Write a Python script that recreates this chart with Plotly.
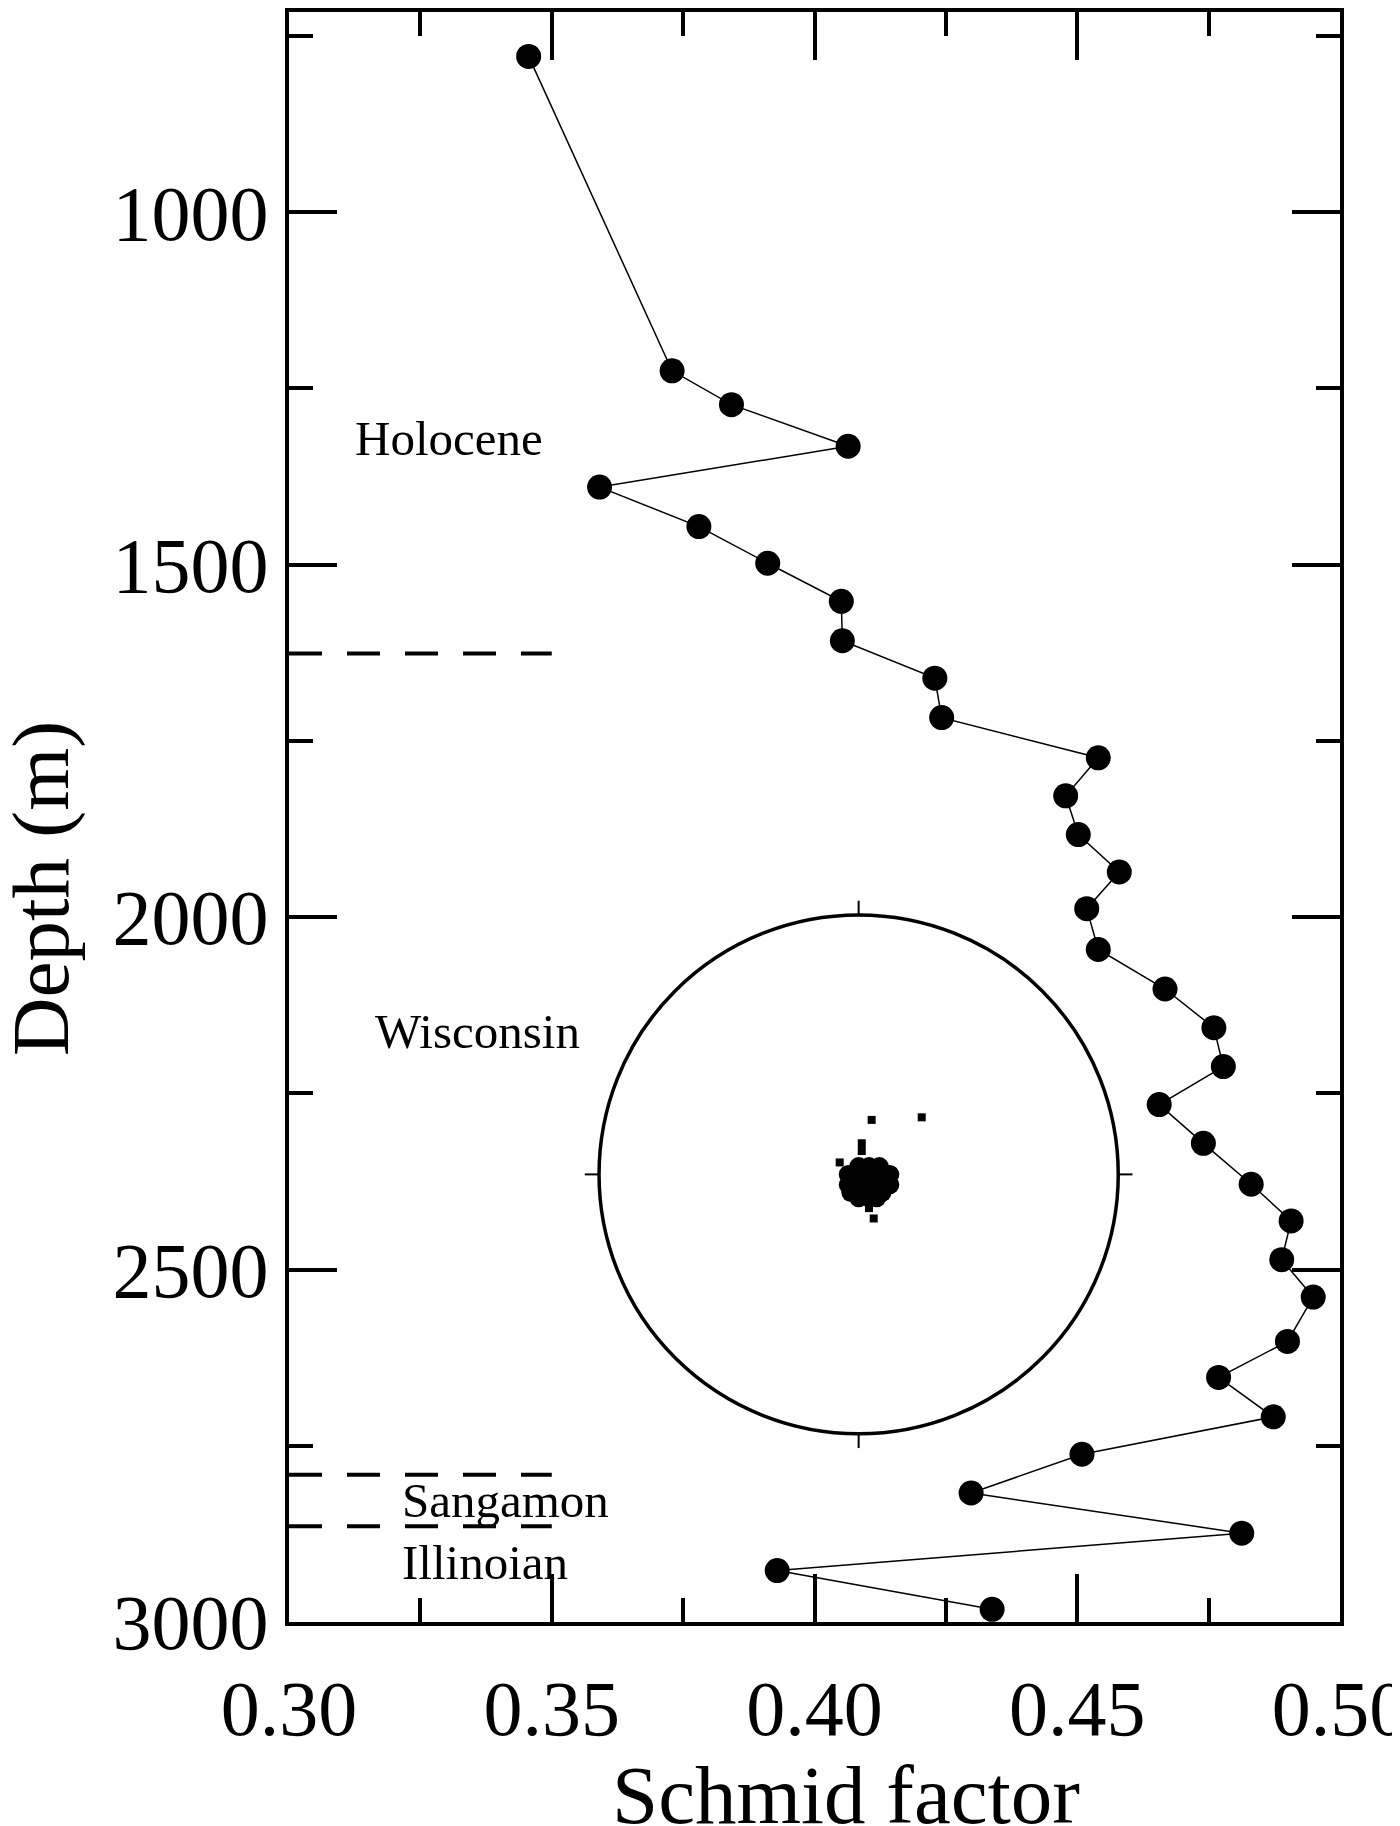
import plotly.graph_objects as go

# Schmid factor profile (depth in m)
schmid = [0.3456, 0.3729, 0.3842, 0.4064, 0.3591, 0.3780, 0.3911, 0.4051,
          0.4053, 0.4229, 0.4242, 0.4540, 0.4478, 0.4502, 0.4580, 0.4518,
          0.4540, 0.4667, 0.4760, 0.4778, 0.4656, 0.4740, 0.4831, 0.4907,
          0.4889, 0.4949, 0.4900, 0.4769, 0.4873, 0.4509, 0.4298, 0.4813,
          0.3929, 0.4338]
depth = [779, 1225, 1273, 1332, 1390, 1446, 1498, 1552,
         1608, 1661, 1717, 1774, 1828, 1883, 1936, 1988,
         2046, 2102, 2157, 2212, 2266, 2321, 2379, 2431,
         2486, 2539, 2602, 2653, 2709, 2762, 2817, 2874,
         2927, 2982]

x_ticks = [0.30, 0.35, 0.40, 0.45, 0.50]
y_ticks = [1000, 1500, 2000, 2500, 3000]

# climate stage boundaries and labels
boundary_depths = [1626, 2791, 2864]
stage_names = ["Holocene", "Wisconsin", "Sangamon", "Illinoian"]
stage_x = [0.3122, 0.3160, 0.3212, 0.3212]
stage_depth = [1321, 2162, 2827, 2916]

# c-axis pole figure inset (normalised to net radius)
blob_u = [0.00, 0.04, 0.08, -0.04, 0.00, 0.04, 0.08, 0.12, -0.04, 0.00,
          0.04, 0.08, 0.12, -0.03, 0.01, 0.05, 0.09, 0.00, 0.04, 0.07]
blob_v = [0.03, 0.03, 0.03, 0.00, 0.00, 0.00, 0.00, 0.00, -0.04, -0.04,
          -0.04, -0.04, -0.04, -0.07, -0.07, -0.07, -0.07, -0.09, -0.09, -0.09]
dot_u = [0.05, 0.243, 0.058, 0.04, -0.073, 0.012, 0.012]
dot_v = [0.21, 0.22, -0.17, -0.13, 0.046, 0.12, 0.09]

NET_X, NET_Y = 0.4084, 2365
NET_RX, NET_RY = 0.0494, 368

FONT = "Liberation Serif"

fig = go.Figure()

fig.add_trace(go.Scatter(
    x=schmid, y=depth, mode="lines+markers",
    line=dict(color="black", width=1.5),
    marker=dict(size=25, color="black"),
    showlegend=False
))

# pole figure points
fig.add_trace(go.Scatter(
    x=[NET_X + u * NET_RX for u in blob_u],
    y=[NET_Y - v * NET_RY for v in blob_v],
    mode="markers", marker=dict(size=19, color="black"),
    showlegend=False
))
fig.add_trace(go.Scatter(
    x=[NET_X + u * NET_RX for u in dot_u],
    y=[NET_Y - v * NET_RY for v in dot_v],
    mode="markers", marker=dict(size=8, color="black", symbol="square"),
    showlegend=False
))

# net circle
fig.add_shape(type="circle", xref="x", yref="y",
              x0=NET_X - NET_RX, x1=NET_X + NET_RX,
              y0=NET_Y - NET_RY, y1=NET_Y + NET_RY,
              line=dict(color="black", width=3.5))
for du, dv in [(0, 1), (0, -1), (1, 0), (-1, 0)]:
    fig.add_shape(type="line", xref="x", yref="y",
                  x0=NET_X + du * NET_RX, x1=NET_X + du * 1.055 * NET_RX,
                  y0=NET_Y - dv * NET_RY, y1=NET_Y - dv * 1.055 * NET_RY,
                  line=dict(color="black", width=2))

# stage boundaries
for d in boundary_depths:
    fig.add_shape(type="line", xref="x", yref="y",
                  x0=0.30, x1=0.35, y0=d, y1=d,
                  line=dict(color="black", width=4, dash="33px,25px"))

for name, sx, sd in zip(stage_names, stage_x, stage_depth):
    fig.add_annotation(x=sx, y=sd, text=name, showarrow=False,
                       xanchor="left", yanchor="middle",
                       font=dict(family=FONT, size=49, color="black"))

# axis titles
fig.add_annotation(x=0.530, y=-0.0776, xref="paper", yref="paper",
                   text="Schmid factor", showarrow=False,
                   xanchor="center", yanchor="top",
                   font=dict(family=FONT, size=83, color="black"))
fig.add_annotation(x=-0.236, y=0.4559, xref="paper", yref="paper",
                   text="Depth (m)", showarrow=False, textangle=-90,
                   xanchor="center", yanchor="middle",
                   font=dict(family=FONT, size=81, color="black"))

axis_common = dict(
    showgrid=False, zeroline=False, automargin=False,
    showline=True, linecolor="black", linewidth=4, mirror="ticks",
    ticks="inside", ticklen=48, tickwidth=4, tickcolor="black",
    tickfont=dict(family=FONT, size=78, color="black"),
    ticklabeloverflow="allow",
)

fig.update_xaxes(
    range=[0.30, 0.50], tickvals=x_ticks, tickformat=".2f",
    minor=dict(dtick=0.025, tick0=0.30, ticks="inside", ticklen=24,
               tickwidth=4, tickcolor="black"),
    ticklabelstandoff=15,
    **axis_common
)
fig.update_yaxes(
    range=[3000, 716], tickvals=y_ticks,
    minor=dict(dtick=250, tick0=0, ticks="inside", ticklen=24,
               tickwidth=4, tickcolor="black"),
    ticklabelstandoff=1,
    **axis_common
)

fig.update_layout(
    width=1400, height=1826,
    margin=dict(l=281, r=68, t=4, b=212),
    paper_bgcolor="white", plot_bgcolor="white",
    showlegend=False
)

fig.write_html("out.html")
